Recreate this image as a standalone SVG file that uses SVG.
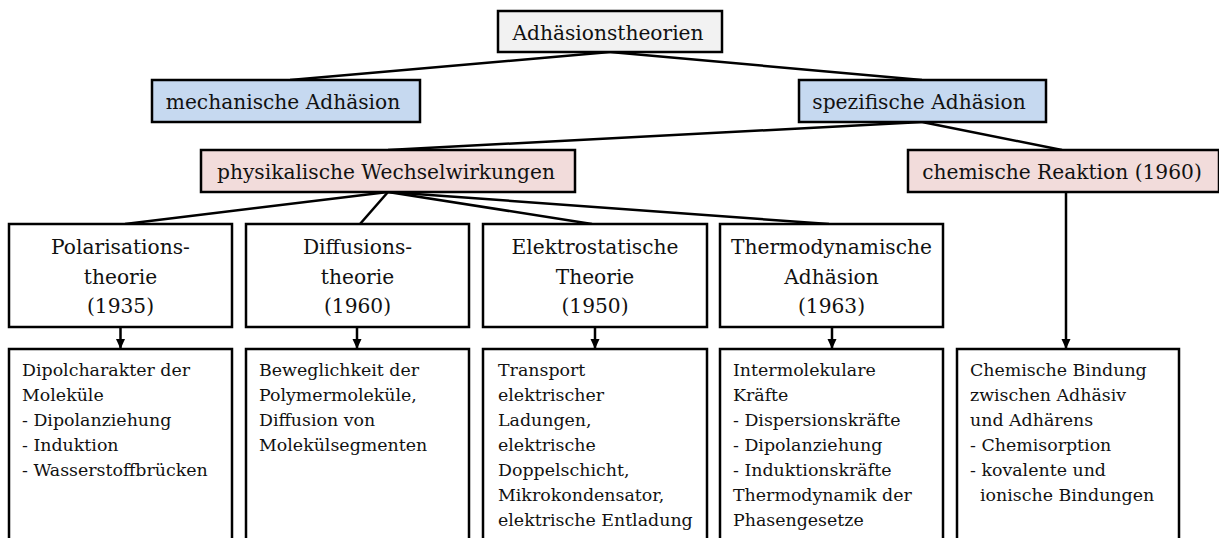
<svg xmlns="http://www.w3.org/2000/svg" width="1219" height="538" viewBox="0 0 1219 538">
<style>
.box{stroke:#000;stroke-width:2.5}
.root{fill:#f2f2f2}
.blue{fill:#c6d9f0}
.pink{fill:#f2dcdb}
.white{fill:#fff}
.t{font-family:"DejaVu Serif","Liberation Serif",serif;fill:#111}
.big{font-size:20.2px}
.small{font-size:17.4px}
.mid{text-anchor:middle}
.con line{stroke:#000;stroke-width:2.5}
</style>
<defs>
<marker id="arr" viewBox="0 0 10 12" refX="10" refY="6" markerWidth="10" markerHeight="12" markerUnits="userSpaceOnUse" orient="auto">
<path d="M0,1.5 L10,6 L0,10.5 Z" fill="#000"/>
</marker>
</defs>
<rect width="1219" height="538" fill="#fff"/>
<g id="connectors" class="con">
<line x1="610" y1="52" x2="290" y2="80"/>
<line x1="610" y1="52" x2="922" y2="80"/>
<line x1="922" y1="122" x2="388" y2="150"/>
<line x1="922" y1="122" x2="1062" y2="150"/>
<line x1="388" y1="192" x2="125" y2="224"/>
<line x1="388" y1="192" x2="360" y2="224"/>
<line x1="388" y1="192" x2="592" y2="224"/>
<line x1="388" y1="192" x2="829" y2="224"/>
<line x1="120.5" y1="327" x2="120.5" y2="349" marker-end="url(#arr)"/>
<line x1="357" y1="327" x2="357" y2="349" marker-end="url(#arr)"/>
<line x1="595" y1="327" x2="595" y2="349" marker-end="url(#arr)"/>
<line x1="832" y1="327" x2="832" y2="349" marker-end="url(#arr)"/>
<line x1="1066" y1="192" x2="1066" y2="349" marker-end="url(#arr)"/>
</g>
<g id="n-root"><rect class="box root" x="498" y="11" width="224" height="41"/><text class="t big mid" x="608" y="40">Adhäsionstheorien</text></g>
<g id="n-mech"><rect class="box blue" x="152" y="80" width="268" height="42"/><text class="t big mid" x="283" y="109">mechanische Adhäsion</text></g>
<g id="n-spez"><rect class="box blue" x="799" y="80" width="247" height="42"/><text class="t big mid" x="919" y="109">spezifische Adhäsion</text></g>
<g id="n-phys"><rect class="box pink" x="201" y="150" width="374" height="42"/><text class="t big mid" x="386" y="179">physikalische Wechselwirkungen</text></g>
<g id="n-chem"><rect class="box pink" x="908" y="150" width="311" height="42"/><text class="t big mid" x="1062" y="179">chemische Reaktion (1960)</text></g>
<g id="n-pol"><rect class="box white" x="9" y="224" width="223" height="103"/><text class="t big mid" x="120.5"><tspan x="120.5" y="254">Polarisations-</tspan><tspan x="120.5" y="283.5">theorie</tspan><tspan x="120.5" y="313">(1935)</tspan></text></g>
<g id="n-dif"><rect class="box white" x="246" y="224" width="223" height="103"/><text class="t big mid"><tspan x="357.5" y="254">Diffusions-</tspan><tspan x="357.5" y="283.5">theorie</tspan><tspan x="357.5" y="313">(1960)</tspan></text></g>
<g id="n-ele"><rect class="box white" x="483" y="224" width="224" height="103"/><text class="t big mid"><tspan x="595" y="254">Elektrostatische</tspan><tspan x="595" y="283.5">Theorie</tspan><tspan x="595" y="313">(1950)</tspan></text></g>
<g id="n-thd"><rect class="box white" x="720" y="224" width="223" height="103"/><text class="t big mid"><tspan x="831.5" y="254">Thermodynamische</tspan><tspan x="831.5" y="283.5">Adhäsion</tspan><tspan x="831.5" y="313">(1963)</tspan></text></g>
<g id="d-pol"><rect class="box white" x="9" y="349" width="223" height="200"/><text class="t small"><tspan x="22" y="376">Dipolcharakter der</tspan><tspan x="22" y="401">Moleküle</tspan><tspan x="22" y="426">- Dipolanziehung</tspan><tspan x="22" y="451">- Induktion</tspan><tspan x="22" y="476">- Wasserstoffbrücken</tspan></text></g>
<g id="d-dif"><rect class="box white" x="246" y="349" width="223" height="200"/><text class="t small"><tspan x="259" y="376">Beweglichkeit der</tspan><tspan x="259" y="401">Polymermoleküle,</tspan><tspan x="259" y="426">Diffusion von</tspan><tspan x="259" y="451">Molekülsegmenten</tspan></text></g>
<g id="d-ele"><rect class="box white" x="483" y="349" width="224" height="200"/><text class="t small"><tspan x="498" y="376">Transport</tspan><tspan x="498" y="401">elektrischer</tspan><tspan x="498" y="426">Ladungen,</tspan><tspan x="498" y="451">elektrische</tspan><tspan x="498" y="476">Doppelschicht,</tspan><tspan x="498" y="501">Mikrokondensator,</tspan><tspan x="498" y="526">elektrische Entladung</tspan></text></g>
<g id="d-thd"><rect class="box white" x="720" y="349" width="223" height="200"/><text class="t small"><tspan x="733" y="376">Intermolekulare</tspan><tspan x="733" y="401">Kräfte</tspan><tspan x="733" y="426">- Dispersionskräfte</tspan><tspan x="733" y="451">- Dipolanziehung</tspan><tspan x="733" y="476">- Induktionskräfte</tspan><tspan x="733" y="501">Thermodynamik der</tspan><tspan x="733" y="526">Phasengesetze</tspan></text></g>
<g id="d-chem"><rect class="box white" x="957" y="349" width="222" height="200"/><text class="t small"><tspan x="970" y="376">Chemische Bindung</tspan><tspan x="970" y="401">zwischen Adhäsiv</tspan><tspan x="970" y="426">und Adhärens</tspan><tspan x="970" y="451">- Chemisorption</tspan><tspan x="970" y="476">- kovalente und</tspan><tspan x="980" y="501">ionische Bindungen</tspan></text></g>
</svg>
